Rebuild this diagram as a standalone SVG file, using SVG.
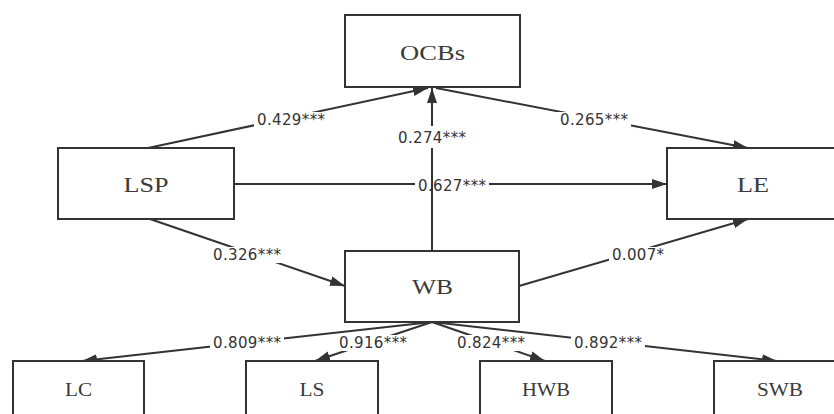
<svg xmlns="http://www.w3.org/2000/svg" width="834" height="414" viewBox="0 0 834 414">
  <style>
    .box { fill: #ffffff; stroke: #333333; stroke-width: 2; }
    .name { font-family: "Liberation Serif", "Times New Roman", serif; font-size: 22px; fill: #3a3a3a; text-anchor: middle; }
    .name.small { font-size: 18px; }
    .edge { fill: none; stroke: #333333; stroke-width: 2; marker-end: url(#arrow); }
    .pad { fill: #ffffff; }
    .coef { font-family: "DejaVu Sans", Verdana, sans-serif; font-size: 15px; fill: #333333; text-anchor: middle; }
  </style>
  <defs>
    <marker id="arrow" markerUnits="userSpaceOnUse" markerWidth="16" markerHeight="12" refX="15" refY="5" orient="auto">
      <path d="M0,0 L15,5 L0,10 Z" fill="#333333"/>
    </marker>
  </defs>
  <rect width="834" height="414" fill="#ffffff"/>

  <g id="connectors">
    <line class="edge" x1="148" y1="148" x2="428" y2="88"/>
    <line class="edge" x1="436" y1="88" x2="748" y2="148"/>
    <line class="edge" x1="234" y1="184" x2="667" y2="184"/>
    <line class="edge" x1="150" y1="219" x2="345" y2="286"/>
    <line class="edge" x1="519" y1="286" x2="748" y2="219"/>
    <line class="edge" x1="432" y1="322" x2="82" y2="361"/>
    <line class="edge" x1="432" y1="322" x2="315" y2="361"/>
    <line class="edge" x1="432" y1="322" x2="545" y2="361"/>
    <line class="edge" x1="432" y1="322" x2="777" y2="361"/>

    <!-- white pads break the lines behind each coefficient -->
    <rect class="pad" x="254" y="112" width="74" height="16"/>
    <rect class="pad" x="557" y="112" width="74" height="16"/>
    <rect class="pad" x="415" y="177" width="74" height="16"/>
    <rect class="pad" x="210" y="247" width="74" height="16"/>
    <rect class="pad" x="609" y="247" width="58" height="16"/>
    <rect class="pad" x="210" y="335" width="74" height="16"/>
    <rect class="pad" x="336" y="335" width="74" height="16"/>
    <rect class="pad" x="454" y="335" width="74" height="16"/>
    <rect class="pad" x="571" y="335" width="74" height="16"/>

    <text class="coef" x="291" y="125" textLength="68">0.429***</text>
    <text class="coef" x="594" y="125" textLength="68">0.265***</text>
    <text class="coef" x="432" y="143" textLength="68">0.274***</text>
    <text class="coef" x="452" y="191" textLength="68">0.627***</text>
    <text class="coef" x="247" y="260" textLength="68">0.326***</text>
    <text class="coef" x="638" y="260" textLength="52">0.007*</text>
    <text class="coef" x="247" y="348" textLength="68">0.809***</text>
    <text class="coef" x="373" y="348" textLength="68">0.916***</text>
    <text class="coef" x="491" y="348" textLength="68">0.824***</text>
    <text class="coef" x="608" y="348" textLength="68">0.892***</text>

    <!-- WB to OCBs: broken around its own label, drawn over the LSP-LE label -->
    <path class="edge" d="M432,251 V148 M432,126 V88"/>
  </g>

  <g id="OCBs">
    <rect class="box" x="345" y="15" width="175" height="72"/>
    <text class="name" x="432.5" y="60" textLength="65" lengthAdjust="spacingAndGlyphs">OCBs</text>
  </g>
  <g id="LSP">
    <rect class="box" x="58" y="148" width="176" height="71"/>
    <text class="name" x="146" y="192" textLength="45" lengthAdjust="spacingAndGlyphs">LSP</text>
  </g>
  <g id="LE">
    <rect class="box" x="667" y="148" width="172" height="71"/>
    <text class="name" x="753" y="192" textLength="32" lengthAdjust="spacingAndGlyphs">LE</text>
  </g>
  <g id="WB">
    <rect class="box" x="345" y="251" width="174" height="71"/>
    <text class="name" x="432.5" y="294" textLength="41" lengthAdjust="spacingAndGlyphs">WB</text>
  </g>
  <g id="LC">
    <rect class="box" x="13" y="361" width="131" height="70"/>
    <text class="name small" x="78.5" y="396" textLength="27" lengthAdjust="spacingAndGlyphs">LC</text>
  </g>
  <g id="LS">
    <rect class="box" x="246" y="361" width="132" height="70"/>
    <text class="name small" x="312" y="396" textLength="25" lengthAdjust="spacingAndGlyphs">LS</text>
  </g>
  <g id="HWB">
    <rect class="box" x="480" y="361" width="132" height="70"/>
    <text class="name small" x="546" y="396" textLength="48" lengthAdjust="spacingAndGlyphs">HWB</text>
  </g>
  <g id="SWB">
    <rect class="box" x="714" y="361" width="132" height="70"/>
    <text class="name small" x="780" y="396" textLength="46" lengthAdjust="spacingAndGlyphs">SWB</text>
  </g>
</svg>
